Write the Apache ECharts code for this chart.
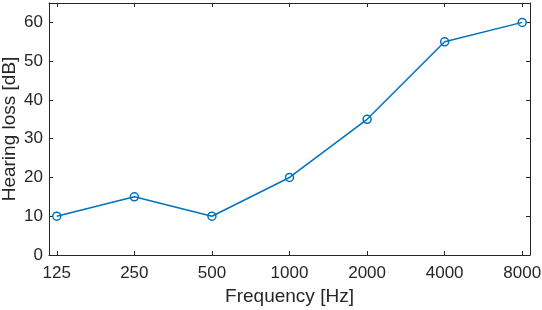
<!DOCTYPE html>
<html><head><meta charset="utf-8">
<script src="https://cdn.jsdelivr.net/npm/echarts@6/dist/echarts.min.js"></script>
<style>html,body{margin:0;padding:0;background:#fff}#c{width:542px;height:310px}</style>
</head><body><div id="c"></div>
<script>
var categories = ['125','250','500','1000','2000','4000','8000'];
var hearingLoss = [10, 15, 10, 20, 35, 55, 60];
var yTicks = [0, 10, 20, 30, 40, 50, 60];

var xIdx = categories.map(function(_, i){ return i; });
var data = hearingLoss.map(function(v, i){ return [i, v]; });
var axisColor = '#262626';
var font = 'Liberation Sans, Arial, sans-serif';

var chart = echarts.init(document.getElementById('c'), null, {renderer: 'canvas'});
function xAxisCfg(pos, labels) {
  return {
    type: 'value', position: pos, min: -0.1, max: 6.1,
    axisLine: {show: true, onZero: false, lineStyle: {color: axisColor, width: 1}},
    axisTick: {show: true, inside: true, length: 4, customValues: xIdx, lineStyle: {color: axisColor}},
    axisLabel: {show: labels, customValues: xIdx, color: axisColor, fontSize: 17, fontFamily: font, margin: 10,
      formatter: function(v){ return categories[Math.round(v)]; }},
    splitLine: {show: false},
    name: labels ? 'Frequency [Hz]' : '', nameLocation: 'middle', nameGap: 32, nameMoveOverlap: false,
    nameTextStyle: {color: axisColor, fontSize: 19, fontFamily: font}
  };
}
function yAxisCfg(pos, labels) {
  return {
    type: 'value', position: pos, min: 0, max: 65,
    axisLine: {show: true, onZero: false, lineStyle: {color: axisColor, width: 1}},
    axisTick: {show: true, inside: true, length: 4, customValues: yTicks, lineStyle: {color: axisColor}},
    axisLabel: {show: labels, customValues: yTicks, color: axisColor, fontSize: 17, fontFamily: font, margin: 6},
    splitLine: {show: false},
    name: labels ? 'Hearing loss [dB]' : '', nameLocation: 'middle', nameGap: 30, nameMoveOverlap: false,
    nameTextStyle: {color: axisColor, fontSize: 19, fontFamily: font}
  };
}
chart.setOption({
  animation: false,
  grid: {left: 49, top: 3, right: 12, bottom: 55, containLabel: false, outerBoundsMode: 'none'},
  xAxis: [xAxisCfg('bottom', true), xAxisCfg('top', false)],
  yAxis: [yAxisCfg('left', true), yAxisCfg('right', false)],
  series: [{
    type: 'line', data: data, xAxisIndex: 0, yAxisIndex: 0,
    symbol: 'circle', symbolSize: 8,
    lineStyle: {color: '#0072BD', width: 1.5},
    itemStyle: {color: 'rgba(0,0,0,0)', borderColor: '#0072BD', borderWidth: 1.5}
  }]
});
</script></body></html>
